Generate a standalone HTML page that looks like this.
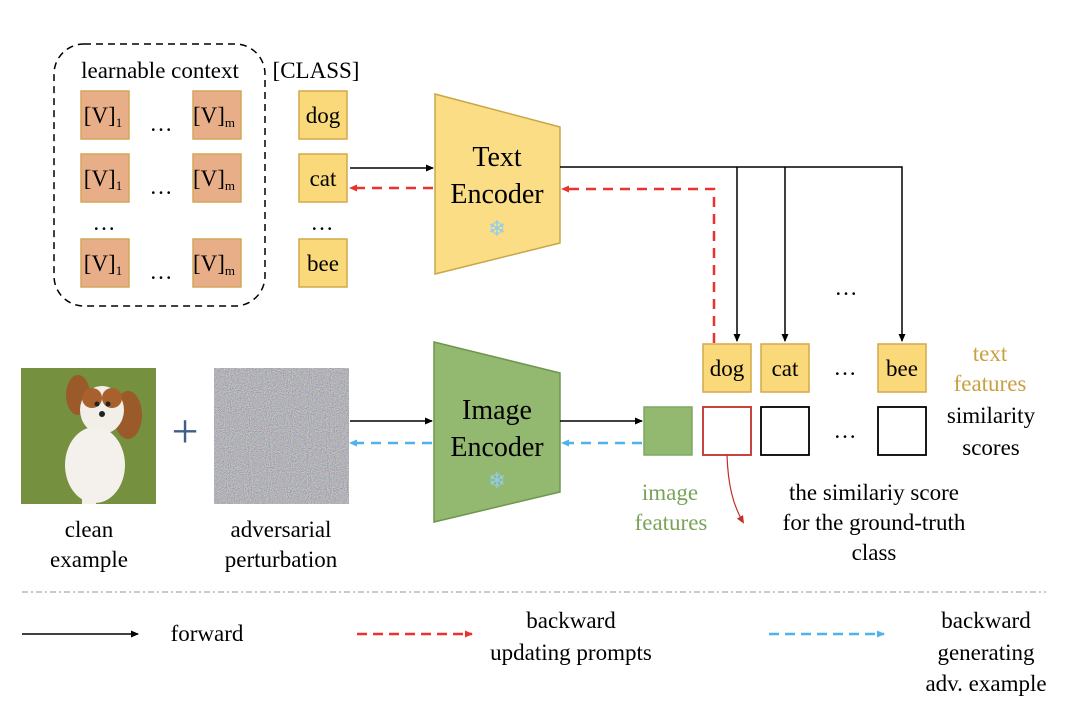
<!DOCTYPE html>
<html><head><meta charset="utf-8"><style>
body{margin:0;background:#fff;}
svg text{font-family:"Liberation Serif",serif;}
</style></head><body>
<svg width="1080" height="723" viewBox="0 0 1080 723" xmlns="http://www.w3.org/2000/svg">
<defs>
<marker id="ab" markerWidth="8" markerHeight="8" refX="7" refY="4" orient="auto" markerUnits="userSpaceOnUse"><path d="M0,0.5 L8,4 L0,7.5z" fill="#000"/></marker>
<marker id="ar" markerWidth="8" markerHeight="8" refX="7" refY="4" orient="auto" markerUnits="userSpaceOnUse"><path d="M0,0.5 L8,4 L0,7.5z" fill="#e8342c"/></marker>
<marker id="au" markerWidth="8" markerHeight="8" refX="7" refY="4" orient="auto" markerUnits="userSpaceOnUse"><path d="M0,0.5 L8,4 L0,7.5z" fill="#4db3ea"/></marker>
<marker id="ad" markerWidth="8" markerHeight="8" refX="6" refY="4" orient="auto" markerUnits="userSpaceOnUse"><path d="M0,0.5 L8,4 L0,7.5z" fill="#c0302a"/></marker>
<filter id="noise" x="0" y="0" width="100%" height="100%"><feTurbulence type="fractalNoise" baseFrequency="0.95" numOctaves="2" seed="3"/><feColorMatrix type="matrix" values="0.8 0 0 0 0.05  0 0.8 0 0 0.05  0 0 0.8 0 0.08  0 0 0 0 1"/></filter>
</defs>

<rect x="54" y="44" width="211" height="262" rx="30" fill="none" stroke="#000" stroke-width="1.5" stroke-dasharray="7,5"/>
<text x="160" y="78" font-size="23" text-anchor="middle">learnable context</text>
<text x="316" y="78" font-size="23" text-anchor="middle">[CLASS]</text>
<g fill="#e8ae88" stroke="#d4a55a" stroke-width="1.5">
<rect x="81" y="91" width="48" height="48"/><rect x="193" y="91" width="48" height="48"/>
<rect x="81" y="154" width="48" height="48"/><rect x="193" y="154" width="48" height="48"/>
<rect x="81" y="239" width="48" height="48"/><rect x="193" y="239" width="48" height="48"/>
</g>
<g font-size="23" text-anchor="middle">
<text x="103" y="123">[V]<tspan font-size="13" dy="4">1</tspan></text>
<text x="214" y="123">[V]<tspan font-size="13" dy="4">m</tspan></text>
<text x="103" y="186">[V]<tspan font-size="13" dy="4">1</tspan></text>
<text x="214" y="186">[V]<tspan font-size="13" dy="4">m</tspan></text>
<text x="103" y="271">[V]<tspan font-size="13" dy="4">1</tspan></text>
<text x="214" y="271">[V]<tspan font-size="13" dy="4">m</tspan></text>
<text x="161" y="131">…</text><text x="161" y="194">…</text><text x="161" y="279">…</text>
<text x="104" y="230">…</text><text x="322" y="230">…</text>
</g>
<g fill="#fad97a" stroke="#d4a94a" stroke-width="1.5">
<rect x="299" y="91" width="48" height="48"/><rect x="299" y="154" width="48" height="48"/><rect x="299" y="239" width="48" height="48"/>
</g>
<g font-size="23" text-anchor="middle">
<text x="323" y="123">dog</text><text x="323" y="186">cat</text><text x="323" y="271">bee</text>
</g>

<polygon points="435,94 560,127 560,243 435,274" fill="#fadd84" stroke="#c9a646" stroke-width="1.5"/>
<text x="497" y="166" font-size="28" text-anchor="middle">Text</text>
<text x="497" y="203" font-size="28" text-anchor="middle">Encoder</text>
<text x="497" y="236" font-size="22" text-anchor="middle" fill="#8fcdee">❄</text>
<line x1="350" y1="168" x2="433" y2="168" stroke="#000" stroke-width="1.5" marker-end="url(#ab)"/>
<line x1="433" y1="188" x2="350" y2="188" stroke="#e8342c" stroke-width="2.5" stroke-dasharray="10,7" marker-end="url(#ar)"/>

<polyline points="560,167 902,167 902,341" fill="none" stroke="#000" stroke-width="1.5" marker-end="url(#ab)"/>
<line x1="737" y1="167" x2="737" y2="341" stroke="#000" stroke-width="1.5" marker-end="url(#ab)"/>
<line x1="785" y1="167" x2="785" y2="341" stroke="#000" stroke-width="1.5" marker-end="url(#ab)"/>
<polyline points="714,343 714,189 562,189" fill="none" stroke="#e8342c" stroke-width="2.5" stroke-dasharray="10,7" marker-end="url(#ar)"/>
<text x="846" y="295" font-size="23" text-anchor="middle">…</text>

<g fill="#fad97a" stroke="#d4a94a" stroke-width="1.5">
<rect x="703" y="344" width="48" height="48"/><rect x="761" y="344" width="48" height="48"/><rect x="878" y="344" width="48" height="48"/>
</g>
<g font-size="23" text-anchor="middle">
<text x="727" y="376">dog</text><text x="785" y="376">cat</text><text x="902" y="376">bee</text>
<text x="845" y="375">…</text><text x="845" y="438">…</text>
</g>
<text x="990" y="361" font-size="23" text-anchor="middle" fill="#c9a040">text</text>
<text x="990" y="391" font-size="23" text-anchor="middle" fill="#c9a040">features</text>
<text x="991" y="423" font-size="23" text-anchor="middle">similarity</text>
<text x="991" y="455" font-size="23" text-anchor="middle">scores</text>

<rect x="644" y="407" width="48" height="48" fill="#93b870" stroke="#7fa860" stroke-width="1.5"/>
<rect x="703" y="407" width="48" height="48" fill="#fff" stroke="#c0302a" stroke-width="1.8"/>
<rect x="761" y="407" width="48" height="48" fill="#fff" stroke="#000" stroke-width="1.8"/>
<rect x="878" y="407" width="48" height="48" fill="#fff" stroke="#000" stroke-width="1.8"/>
<path d="M727,455 C728,485 733,505 743,522" fill="none" stroke="#c0302a" stroke-width="1.2" marker-end="url(#ad)"/>
<text x="670" y="500" font-size="23" text-anchor="middle" fill="#7aa35a">image</text>
<text x="671" y="530" font-size="23" text-anchor="middle" fill="#7aa35a">features</text>
<text x="874" y="500" font-size="23" text-anchor="middle">the similariy score</text>
<text x="874" y="530" font-size="23" text-anchor="middle">for the ground-truth</text>
<text x="874" y="560" font-size="23" text-anchor="middle">class</text>

<polygon points="434,342 560,373 560,492 434,522" fill="#93b870" stroke="#6f9650" stroke-width="1.5"/>
<text x="497" y="419" font-size="28" text-anchor="middle">Image</text>
<text x="497" y="456" font-size="28" text-anchor="middle">Encoder</text>
<text x="497" y="488" font-size="22" text-anchor="middle" fill="#8fcdee">❄</text>
<line x1="350" y1="421" x2="432" y2="421" stroke="#000" stroke-width="1.5" marker-end="url(#ab)"/>
<line x1="432" y1="443" x2="350" y2="443" stroke="#4db3ea" stroke-width="2.5" stroke-dasharray="10,7" marker-end="url(#au)"/>
<line x1="560" y1="421" x2="642" y2="421" stroke="#000" stroke-width="1.5" marker-end="url(#ab)"/>
<line x1="642" y1="443" x2="562" y2="443" stroke="#4db3ea" stroke-width="2.5" stroke-dasharray="10,7" marker-end="url(#au)"/>

<rect x="21" y="368" width="135" height="136" fill="#7e9a45"/>
<rect x="21" y="368" width="135" height="136" fill="#5f7a30" opacity="0.3"/>
<ellipse cx="78" cy="395" rx="12" ry="20" fill="#9a5a2a"/>
<ellipse cx="128" cy="415" rx="14" ry="24" fill="#9a5a2a"/>
<ellipse cx="102" cy="410" rx="22" ry="24" fill="#f2eee8"/>
<ellipse cx="92" cy="398" rx="10" ry="10" fill="#a8602c"/>
<ellipse cx="112" cy="398" rx="10" ry="10" fill="#a8602c"/>
<ellipse cx="95" cy="465" rx="30" ry="38" fill="#f4f1ec"/>
<rect x="82" y="480" width="14" height="24" fill="#f4f1ec"/>
<circle cx="97" cy="404" r="2.5" fill="#222"/><circle cx="108" cy="404" r="2.5" fill="#222"/>
<circle cx="102" cy="414" r="3" fill="#222"/>
<text x="185" y="447" font-size="48" text-anchor="middle" fill="#3d5f88" font-family="Liberation Sans,sans-serif">+</text>
<rect x="214" y="368" width="135" height="136" filter="url(#noise)"/>

<text x="89" y="537" font-size="23" text-anchor="middle">clean</text>
<text x="89" y="567" font-size="23" text-anchor="middle">example</text>
<text x="281" y="537" font-size="23" text-anchor="middle">adversarial</text>
<text x="281" y="567" font-size="23" text-anchor="middle">perturbation</text>

<line x1="22" y1="592" x2="1046" y2="592" stroke="#b8b8b8" stroke-width="1.5" stroke-dasharray="6,3,2,3"/>
<line x1="22" y1="634" x2="138" y2="634" stroke="#000" stroke-width="1.5" marker-end="url(#ab)"/>
<text x="207" y="641" font-size="23" text-anchor="middle">forward</text>
<line x1="357" y1="634" x2="472" y2="634" stroke="#e8342c" stroke-width="2.5" stroke-dasharray="10,6" marker-end="url(#ar)"/>
<text x="571" y="628" font-size="23" text-anchor="middle">backward</text>
<text x="571" y="660" font-size="23" text-anchor="middle">updating prompts</text>
<line x1="769" y1="634" x2="884" y2="634" stroke="#4db3ea" stroke-width="2.5" stroke-dasharray="10,6" marker-end="url(#au)"/>
<text x="986" y="628" font-size="23" text-anchor="middle">backward</text>
<text x="986" y="660" font-size="23" text-anchor="middle">generating</text>
<text x="986" y="691" font-size="23" text-anchor="middle">adv. example</text>
</svg>
</body></html>
